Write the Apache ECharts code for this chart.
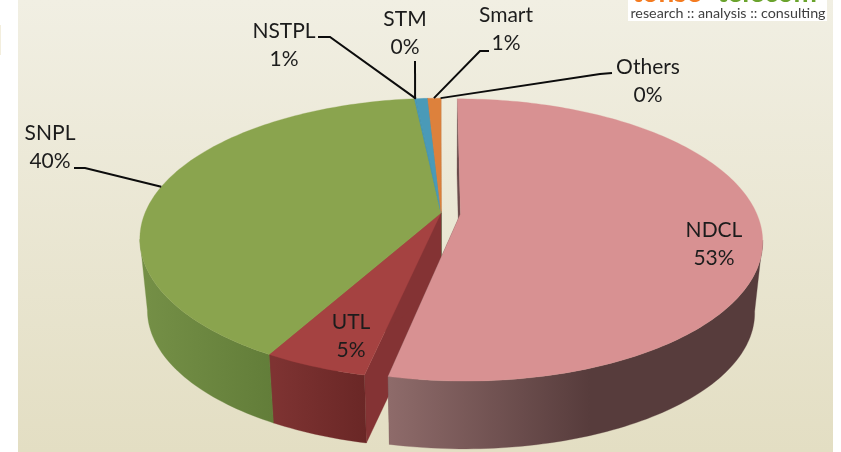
<!DOCTYPE html>
<html><head><meta charset="utf-8">
<style>html,body{margin:0;padding:0;background:#fff}#c{width:841px;height:452px}</style>
<script src="https://cdn.jsdelivr.net/npm/echarts@6/dist/echarts.min.js"></script>
</head><body><div id="c"></div>
<script>
// ---- data (share in %, clockwise from 12 o'clock)
const categories = ['NDCL','UTL','SNPL','STM','NSTPL','Smart','Others'];
const shares     = [53.4, 4.7, 40.2, 0.1, 0.75, 0.8, 0.05];

// ---- styles and layout
const explode  = [0.066,0,0,0,0,0,0];
const topColor = ['#d89192','#a54241','#8aa44e','#4a9ab8','#4a9ab8','#dd813c','#dd813c'];
const faceColor= ['#6b4b4b','#843334','#6e8a3f','#3a7a92','#3a7a92','#b0652c','#b0652c'];
const wallStops= [
  [389,590,'#8e6b6a','#573c3c'],
  [274,365,'#7e3332','#6a2726'],
  [147,274,'#748f46','#627d39'],
  [400,440,'#3a7a92','#3a7a92'],[400,440,'#3a7a92','#3a7a92'],
  [400,440,'#b0652c','#b0652c'],[400,440,'#b0652c','#b0652c']];
const labelPos = [[714,244],[351,336],[50,147],[405,33],[284,45],[506,29],[648,81]];
const leaderFrac = [null,null,0.5,0.5,0,0.5,0.5];
const leaderElbows = [null,null,[[74,168],[85,168]],[[415,61]],[[318,37],[330,37]],[[489,51],[480,51]],[[612,73],[600,74]]];

// projected disc: a circle seen in perspective
const view = {cx:441, a:296, b:136, p:0.184, topY:213, botY:285, botScale:0.975};
const project = (u,v,layer)=>{
  const w = 1 - view.p*v, s = layer ? view.botScale : 1, y0 = layer ? view.botY : view.topY;
  return [view.cx + s*view.a*u/w, y0 + s*view.b*v/w];
};
const total = shares.reduce((s,x)=>s+x,0);
const starts = []; shares.reduce((s,x,i)=>{starts[i]=s;return s+x;},0);
const angle = pct => pct/total*2*Math.PI;

function renderSlice(params, api){
  const i = params.dataIndex, val = api.value(1);
  const t0 = angle(starts[i]), t1 = t0 + angle(val), mid=(t0+t1)/2;
  const ox = explode[i]*Math.sin(mid), oy = -explode[i]*Math.cos(mid);
  const rim = (t,l)=>project(ox+Math.sin(t), oy-Math.cos(t), l);
  const apex = l=>project(ox,oy,l);
  const n = Math.max(2, Math.ceil((t1-t0)/0.02));
  const angles = [];
  for(let k=0;k<=n;k++) angles.push(t0+(t1-t0)*k/n);
  const kids = [];
  const base = explode[i] ? 10 : 0;
  const poly = (pts,fill,z)=>kids.push({type:'polygon',z2:base+z,shape:{points:pts},style:{fill:fill,stroke:fill,lineWidth:0.3}});
  // cut faces: the first slice round the left side lies in front of the later ones
  const faceZ = 1 - t0/(2*Math.PI);
  poly([apex(0),rim(t0,0),rim(t0,1),apex(1)],faceColor[i],faceZ);
  poly([apex(0),rim(t1,0),rim(t1,1),apex(1)],faceColor[i],faceZ);
  // side wall: only the near part of the rim; the ends join the rims along the tangent
  const near = angles.filter(t=>-Math.cos(t) >= 0.17);
  if(near.length>1){
    const w = wallStops[i];
    const wallFill = new echarts.graphic.LinearGradient(w[0],0,w[1],0,[{offset:0,color:w[2]},{offset:1,color:w[3]}],true);
    poly(near.map(t=>rim(t,0)).concat(near.slice().reverse().map(t=>rim(t,1))),wallFill,2);
  }
  poly([apex(0)].concat(angles.map(t=>rim(t,0))),topColor[i],3);
  const pct = Math.round(val/total*100)+'%';
  if(leaderElbows[i]){
    const end = rim(t0+(t1-t0)*leaderFrac[i],0);
    kids.push({type:'polyline',z2:40,shape:{points:leaderElbows[i].concat([end])},
      style:{fill:null,stroke:'#0c0c0c',lineWidth:2}});
  }
  kids.push({type:'text',z2:50,style:{text:api.value(0)+'\n'+pct,x:labelPos[i][0],y:labelPos[i][1],
    align:'center',verticalAlign:'middle',fill:'#1c1c1c',font:'21px Lato',lineHeight:28}});
  return {type:'group',children:kids};
}

const chart = echarts.init(document.getElementById('c'),null,{renderer:'canvas'});
chart.setOption({
  animation:false,
  graphic:[
    {type:'rect',z:-10,shape:{x:18,y:0,width:815,height:452},
      style:{fill:new echarts.graphic.LinearGradient(0,0,0,1,[{offset:0,color:'#f1efe3'},{offset:1,color:'#e3dec3'}])}},
    {type:'rect',z:-10,shape:{x:0,y:25,width:1,height:30},style:{fill:'#f3eedd'}},
    {type:'rect',z:-9,shape:{x:628,y:0,width:199,height:21},style:{fill:'#ffffff'}},
    {type:'text',z:-8,style:{text:'tonse',x:632,y:7,verticalAlign:'bottom',fill:'#f47b20',font:'bold 28px Lato'}},
    {type:'text',z:-8,style:{text:'telecom',x:717,y:7,verticalAlign:'bottom',fill:'#6aa32d',font:'bold 28px Lato'}},
    {type:'text',z:-8,style:{text:'research :: analysis :: consulting',x:728,y:13,align:'center',verticalAlign:'middle',fill:'#3f3f3f',font:'14.3px Lato'}}
  ],
  series:[{
    type:'custom',coordinateSystem:'none',z:5,silent:true,
    renderItem:renderSlice,
    data:categories.map((c,i)=>[c,shares[i]])
  }]
});
</script></body></html>
